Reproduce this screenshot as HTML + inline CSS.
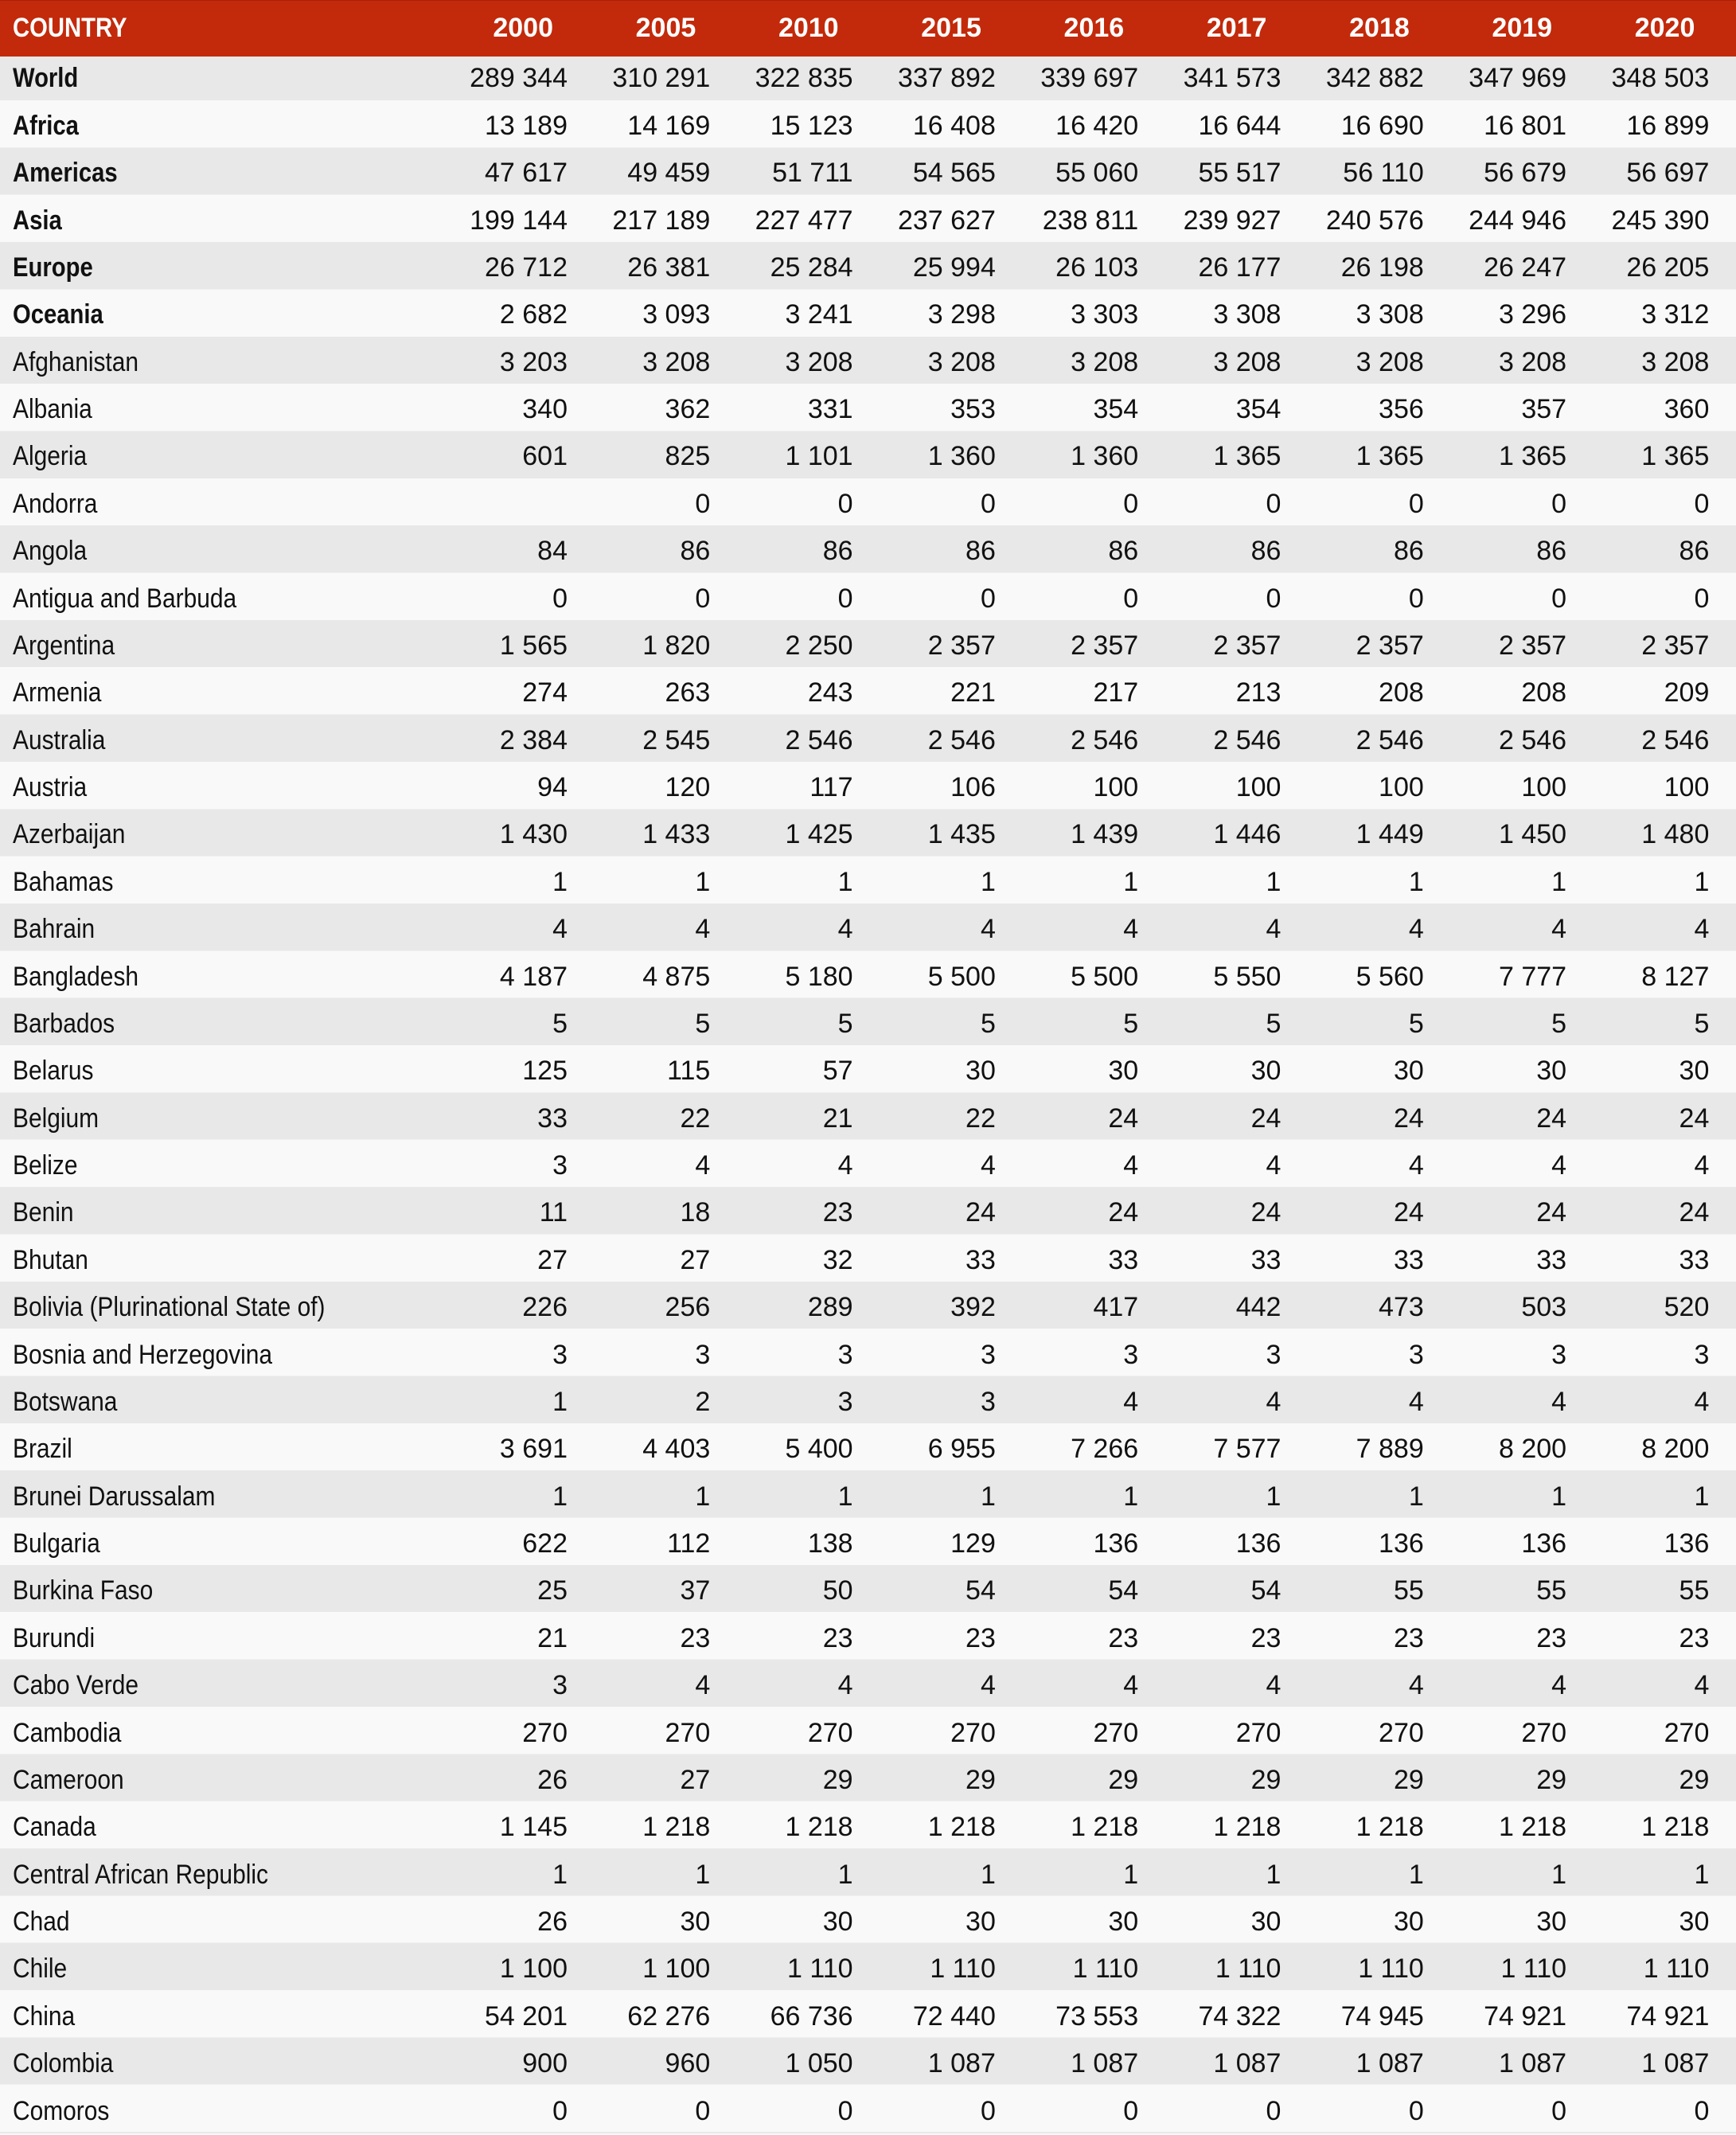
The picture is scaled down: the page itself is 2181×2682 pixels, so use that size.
<!DOCTYPE html>
<html>
<head>
<meta charset="utf-8">
<style>
html,body{margin:0;padding:0;}
body{width:2181px;height:2680px;overflow:hidden;background:#f9f9f9;font-family:"Liberation Sans",Arial,sans-serif;color:#111;position:relative;}
#hdr{position:absolute;left:0;top:0;width:2181px;height:71px;background:#c22a0b;border-top:1px solid #a82008;box-sizing:border-box;}
#w{position:absolute;left:0;top:71px;width:2181px;height:55px;background:#e8e8e8;}
#bands{position:absolute;left:0;top:126px;width:2181px;height:2554px;background:repeating-linear-gradient(to bottom,#f9f9f9 0px,#f9f9f9 59.35px,#e8e8e8 59.35px,#e8e8e8 118.7px);}
#txt{position:absolute;left:0;top:69.3px;width:2181px;}
.r{display:flex;align-items:center;height:59.38px;font-size:34px;white-space:nowrap;}
.n{width:533.7px;flex:none;padding-left:16px;box-sizing:border-box;}
.n span{display:inline-block;transform:scaleX(0.88);transform-origin:left center;}
.n.b span{transform:scaleX(0.86);}
.v{width:179.3px;flex:none;text-align:right;}
.b{font-weight:bold;}
.h{position:absolute;left:0;top:0;width:2181px;height:71px;color:#fff;font-weight:bold;}
.h .n span{transform:scaleX(0.86);}
.h .v{padding-right:18px;box-sizing:border-box;}
</style>
</head>
<body>
<div id="hdr"></div>
<div id="w"></div>
<div id="bands"></div>
<div class="r h"><div class="n"><span>COUNTRY</span></div><div class="v">2000</div><div class="v">2005</div><div class="v">2010</div><div class="v">2015</div><div class="v">2016</div><div class="v">2017</div><div class="v">2018</div><div class="v">2019</div><div class="v">2020</div></div>
<div id="txt">
<div class="r"><div class="n b"><span>World</span></div><div class="v">289 344</div><div class="v">310 291</div><div class="v">322 835</div><div class="v">337 892</div><div class="v">339 697</div><div class="v">341 573</div><div class="v">342 882</div><div class="v">347 969</div><div class="v">348 503</div></div>
<div class="r"><div class="n b"><span>Africa</span></div><div class="v">13 189</div><div class="v">14 169</div><div class="v">15 123</div><div class="v">16 408</div><div class="v">16 420</div><div class="v">16 644</div><div class="v">16 690</div><div class="v">16 801</div><div class="v">16 899</div></div>
<div class="r"><div class="n b"><span>Americas</span></div><div class="v">47 617</div><div class="v">49 459</div><div class="v">51 711</div><div class="v">54 565</div><div class="v">55 060</div><div class="v">55 517</div><div class="v">56 110</div><div class="v">56 679</div><div class="v">56 697</div></div>
<div class="r"><div class="n b"><span>Asia</span></div><div class="v">199 144</div><div class="v">217 189</div><div class="v">227 477</div><div class="v">237 627</div><div class="v">238 811</div><div class="v">239 927</div><div class="v">240 576</div><div class="v">244 946</div><div class="v">245 390</div></div>
<div class="r"><div class="n b"><span>Europe</span></div><div class="v">26 712</div><div class="v">26 381</div><div class="v">25 284</div><div class="v">25 994</div><div class="v">26 103</div><div class="v">26 177</div><div class="v">26 198</div><div class="v">26 247</div><div class="v">26 205</div></div>
<div class="r"><div class="n b"><span>Oceania</span></div><div class="v">2 682</div><div class="v">3 093</div><div class="v">3 241</div><div class="v">3 298</div><div class="v">3 303</div><div class="v">3 308</div><div class="v">3 308</div><div class="v">3 296</div><div class="v">3 312</div></div>
<div class="r"><div class="n"><span>Afghanistan</span></div><div class="v">3 203</div><div class="v">3 208</div><div class="v">3 208</div><div class="v">3 208</div><div class="v">3 208</div><div class="v">3 208</div><div class="v">3 208</div><div class="v">3 208</div><div class="v">3 208</div></div>
<div class="r"><div class="n"><span>Albania</span></div><div class="v">340</div><div class="v">362</div><div class="v">331</div><div class="v">353</div><div class="v">354</div><div class="v">354</div><div class="v">356</div><div class="v">357</div><div class="v">360</div></div>
<div class="r"><div class="n"><span>Algeria</span></div><div class="v">601</div><div class="v">825</div><div class="v">1 101</div><div class="v">1 360</div><div class="v">1 360</div><div class="v">1 365</div><div class="v">1 365</div><div class="v">1 365</div><div class="v">1 365</div></div>
<div class="r"><div class="n"><span>Andorra</span></div><div class="v"></div><div class="v">0</div><div class="v">0</div><div class="v">0</div><div class="v">0</div><div class="v">0</div><div class="v">0</div><div class="v">0</div><div class="v">0</div></div>
<div class="r"><div class="n"><span>Angola</span></div><div class="v">84</div><div class="v">86</div><div class="v">86</div><div class="v">86</div><div class="v">86</div><div class="v">86</div><div class="v">86</div><div class="v">86</div><div class="v">86</div></div>
<div class="r"><div class="n"><span>Antigua and Barbuda</span></div><div class="v">0</div><div class="v">0</div><div class="v">0</div><div class="v">0</div><div class="v">0</div><div class="v">0</div><div class="v">0</div><div class="v">0</div><div class="v">0</div></div>
<div class="r"><div class="n"><span>Argentina</span></div><div class="v">1 565</div><div class="v">1 820</div><div class="v">2 250</div><div class="v">2 357</div><div class="v">2 357</div><div class="v">2 357</div><div class="v">2 357</div><div class="v">2 357</div><div class="v">2 357</div></div>
<div class="r"><div class="n"><span>Armenia</span></div><div class="v">274</div><div class="v">263</div><div class="v">243</div><div class="v">221</div><div class="v">217</div><div class="v">213</div><div class="v">208</div><div class="v">208</div><div class="v">209</div></div>
<div class="r"><div class="n"><span>Australia</span></div><div class="v">2 384</div><div class="v">2 545</div><div class="v">2 546</div><div class="v">2 546</div><div class="v">2 546</div><div class="v">2 546</div><div class="v">2 546</div><div class="v">2 546</div><div class="v">2 546</div></div>
<div class="r"><div class="n"><span>Austria</span></div><div class="v">94</div><div class="v">120</div><div class="v">117</div><div class="v">106</div><div class="v">100</div><div class="v">100</div><div class="v">100</div><div class="v">100</div><div class="v">100</div></div>
<div class="r"><div class="n"><span>Azerbaijan</span></div><div class="v">1 430</div><div class="v">1 433</div><div class="v">1 425</div><div class="v">1 435</div><div class="v">1 439</div><div class="v">1 446</div><div class="v">1 449</div><div class="v">1 450</div><div class="v">1 480</div></div>
<div class="r"><div class="n"><span>Bahamas</span></div><div class="v">1</div><div class="v">1</div><div class="v">1</div><div class="v">1</div><div class="v">1</div><div class="v">1</div><div class="v">1</div><div class="v">1</div><div class="v">1</div></div>
<div class="r"><div class="n"><span>Bahrain</span></div><div class="v">4</div><div class="v">4</div><div class="v">4</div><div class="v">4</div><div class="v">4</div><div class="v">4</div><div class="v">4</div><div class="v">4</div><div class="v">4</div></div>
<div class="r"><div class="n"><span>Bangladesh</span></div><div class="v">4 187</div><div class="v">4 875</div><div class="v">5 180</div><div class="v">5 500</div><div class="v">5 500</div><div class="v">5 550</div><div class="v">5 560</div><div class="v">7 777</div><div class="v">8 127</div></div>
<div class="r"><div class="n"><span>Barbados</span></div><div class="v">5</div><div class="v">5</div><div class="v">5</div><div class="v">5</div><div class="v">5</div><div class="v">5</div><div class="v">5</div><div class="v">5</div><div class="v">5</div></div>
<div class="r"><div class="n"><span>Belarus</span></div><div class="v">125</div><div class="v">115</div><div class="v">57</div><div class="v">30</div><div class="v">30</div><div class="v">30</div><div class="v">30</div><div class="v">30</div><div class="v">30</div></div>
<div class="r"><div class="n"><span>Belgium</span></div><div class="v">33</div><div class="v">22</div><div class="v">21</div><div class="v">22</div><div class="v">24</div><div class="v">24</div><div class="v">24</div><div class="v">24</div><div class="v">24</div></div>
<div class="r"><div class="n"><span>Belize</span></div><div class="v">3</div><div class="v">4</div><div class="v">4</div><div class="v">4</div><div class="v">4</div><div class="v">4</div><div class="v">4</div><div class="v">4</div><div class="v">4</div></div>
<div class="r"><div class="n"><span>Benin</span></div><div class="v">11</div><div class="v">18</div><div class="v">23</div><div class="v">24</div><div class="v">24</div><div class="v">24</div><div class="v">24</div><div class="v">24</div><div class="v">24</div></div>
<div class="r"><div class="n"><span>Bhutan</span></div><div class="v">27</div><div class="v">27</div><div class="v">32</div><div class="v">33</div><div class="v">33</div><div class="v">33</div><div class="v">33</div><div class="v">33</div><div class="v">33</div></div>
<div class="r"><div class="n"><span>Bolivia (Plurinational State of)</span></div><div class="v">226</div><div class="v">256</div><div class="v">289</div><div class="v">392</div><div class="v">417</div><div class="v">442</div><div class="v">473</div><div class="v">503</div><div class="v">520</div></div>
<div class="r"><div class="n"><span>Bosnia and Herzegovina</span></div><div class="v">3</div><div class="v">3</div><div class="v">3</div><div class="v">3</div><div class="v">3</div><div class="v">3</div><div class="v">3</div><div class="v">3</div><div class="v">3</div></div>
<div class="r"><div class="n"><span>Botswana</span></div><div class="v">1</div><div class="v">2</div><div class="v">3</div><div class="v">3</div><div class="v">4</div><div class="v">4</div><div class="v">4</div><div class="v">4</div><div class="v">4</div></div>
<div class="r"><div class="n"><span>Brazil</span></div><div class="v">3 691</div><div class="v">4 403</div><div class="v">5 400</div><div class="v">6 955</div><div class="v">7 266</div><div class="v">7 577</div><div class="v">7 889</div><div class="v">8 200</div><div class="v">8 200</div></div>
<div class="r"><div class="n"><span>Brunei Darussalam</span></div><div class="v">1</div><div class="v">1</div><div class="v">1</div><div class="v">1</div><div class="v">1</div><div class="v">1</div><div class="v">1</div><div class="v">1</div><div class="v">1</div></div>
<div class="r"><div class="n"><span>Bulgaria</span></div><div class="v">622</div><div class="v">112</div><div class="v">138</div><div class="v">129</div><div class="v">136</div><div class="v">136</div><div class="v">136</div><div class="v">136</div><div class="v">136</div></div>
<div class="r"><div class="n"><span>Burkina Faso</span></div><div class="v">25</div><div class="v">37</div><div class="v">50</div><div class="v">54</div><div class="v">54</div><div class="v">54</div><div class="v">55</div><div class="v">55</div><div class="v">55</div></div>
<div class="r"><div class="n"><span>Burundi</span></div><div class="v">21</div><div class="v">23</div><div class="v">23</div><div class="v">23</div><div class="v">23</div><div class="v">23</div><div class="v">23</div><div class="v">23</div><div class="v">23</div></div>
<div class="r"><div class="n"><span>Cabo Verde</span></div><div class="v">3</div><div class="v">4</div><div class="v">4</div><div class="v">4</div><div class="v">4</div><div class="v">4</div><div class="v">4</div><div class="v">4</div><div class="v">4</div></div>
<div class="r"><div class="n"><span>Cambodia</span></div><div class="v">270</div><div class="v">270</div><div class="v">270</div><div class="v">270</div><div class="v">270</div><div class="v">270</div><div class="v">270</div><div class="v">270</div><div class="v">270</div></div>
<div class="r"><div class="n"><span>Cameroon</span></div><div class="v">26</div><div class="v">27</div><div class="v">29</div><div class="v">29</div><div class="v">29</div><div class="v">29</div><div class="v">29</div><div class="v">29</div><div class="v">29</div></div>
<div class="r"><div class="n"><span>Canada</span></div><div class="v">1 145</div><div class="v">1 218</div><div class="v">1 218</div><div class="v">1 218</div><div class="v">1 218</div><div class="v">1 218</div><div class="v">1 218</div><div class="v">1 218</div><div class="v">1 218</div></div>
<div class="r"><div class="n"><span>Central African Republic</span></div><div class="v">1</div><div class="v">1</div><div class="v">1</div><div class="v">1</div><div class="v">1</div><div class="v">1</div><div class="v">1</div><div class="v">1</div><div class="v">1</div></div>
<div class="r"><div class="n"><span>Chad</span></div><div class="v">26</div><div class="v">30</div><div class="v">30</div><div class="v">30</div><div class="v">30</div><div class="v">30</div><div class="v">30</div><div class="v">30</div><div class="v">30</div></div>
<div class="r"><div class="n"><span>Chile</span></div><div class="v">1 100</div><div class="v">1 100</div><div class="v">1 110</div><div class="v">1 110</div><div class="v">1 110</div><div class="v">1 110</div><div class="v">1 110</div><div class="v">1 110</div><div class="v">1 110</div></div>
<div class="r"><div class="n"><span>China</span></div><div class="v">54 201</div><div class="v">62 276</div><div class="v">66 736</div><div class="v">72 440</div><div class="v">73 553</div><div class="v">74 322</div><div class="v">74 945</div><div class="v">74 921</div><div class="v">74 921</div></div>
<div class="r"><div class="n"><span>Colombia</span></div><div class="v">900</div><div class="v">960</div><div class="v">1 050</div><div class="v">1 087</div><div class="v">1 087</div><div class="v">1 087</div><div class="v">1 087</div><div class="v">1 087</div><div class="v">1 087</div></div>
<div class="r"><div class="n"><span>Comoros</span></div><div class="v">0</div><div class="v">0</div><div class="v">0</div><div class="v">0</div><div class="v">0</div><div class="v">0</div><div class="v">0</div><div class="v">0</div><div class="v">0</div></div>
</div>
</body>
</html>
